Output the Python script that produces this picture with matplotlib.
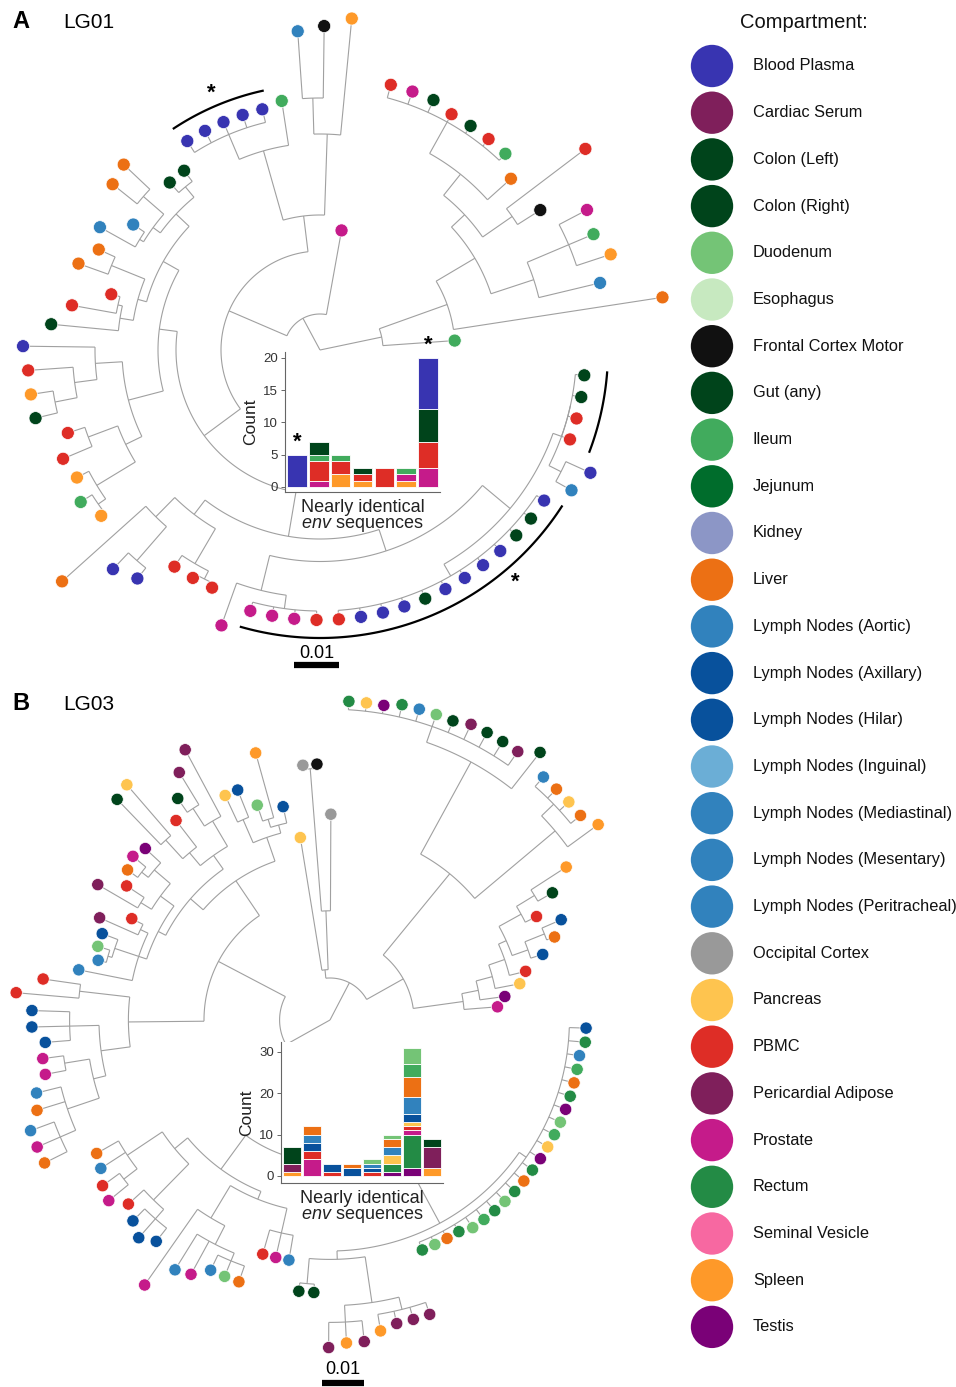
import matplotlib.pyplot as plt
import numpy as np
from matplotlib.collections import LineCollection

plt.rcParams['font.family'] = ['Liberation Sans', 'DejaVu Sans']
plt.rcParams['mathtext.fontset'] = 'custom'
plt.rcParams['mathtext.rm'] = 'Liberation Sans'
plt.rcParams['mathtext.it'] = 'Liberation Sans:italic'

# Compartimentos (leyenda)
compartments = ['Blood Plasma', 'Cardiac Serum', 'Colon (Left)', 'Colon (Right)', 'Duodenum',
                'Esophagus', 'Frontal Cortex Motor', 'Gut (any)', 'Ileum', 'Jejunum', 'Kidney',
                'Liver', 'Lymph Nodes (Aortic)', 'Lymph Nodes (Axillary)', 'Lymph Nodes (Hilar)',
                'Lymph Nodes (Inguinal)', 'Lymph Nodes (Mediastinal)', 'Lymph Nodes (Mesentary)',
                'Lymph Nodes (Peritracheal)', 'Occipital Cortex', 'Pancreas', 'PBMC',
                'Pericardial Adipose', 'Prostate', 'Rectum', 'Seminal Vesicle', 'Spleen', 'Testis']
codes = ['BP', 'CS', 'CL', 'CR', 'DU', 'ES', 'FC', 'GU', 'IL', 'JE', 'KI', 'LI', 'LA', 'LX', 'LH',
         'LG', 'LM', 'LS', 'LP', 'OC', 'PA', 'PB', 'PE', 'PR', 'RE', 'SV', 'SP', 'TE']
colors = ['#3834b1', '#7f1f5b', '#00441b', '#00441b', '#74c476', '#c7e9c0', '#111111', '#00441b',
          '#41ab5d', '#006d2c', '#8c96c6', '#ec7014', '#3182bd', '#08519c', '#08519c', '#6baed6',
          '#3182bd', '#3182bd', '#3182bd', '#999999', '#fec44f', '#de2d26', '#7f1f5b', '#c51b8a',
          '#238b45', '#f768a1', '#fe9929', '#7a0177']
color_of = dict(zip(codes, colors))

# Árboles (newick): el número tras ':' es la distancia a la raíz (x 0.001 subst./sitio)
lg01_right = ("(IL:30,(LI:77,((LA:64,(SP:68,IL:66,PR:67):60):50,((FC:58,PB:74):52,"
              "(LI:57,(IL:60,PB:60,GU:60,PB:60,GU:61,PR:61,PB:61):58):50):44):40):30):14")
lg01_top = "((SP:74,(FC:72,LA:71):56):48,(IL:56,(BP:55,BP:55,BP:55,BP:55,BP:55):52):46):30"
lg01_left1 = ("(((GU:50,GU:50):47,((LI:60,LI:59):52,(LA:50,LA:56):47):46):44,"
              "((LI:54,LI:57):50,((PB:48,PB:56):46,GU:60):45):42):40")
lg01_left2 = "((BP:66,(PB:65,(SP:65,GU:65):60):55):50,((PB:59,PB:62):55,(SP:61,(IL:63,SP:61):60):58):48):44"
lg01_bottom1 = "((LI:77,(BP:67,BP:65):62):52,(PB:58,(PB:58,PB:58):57):55):46"
lg01_bottom2 = ("((PR:65,(PR:60,PR:60,PR:60,PB:60):58):55,"
                "((PB:60,BP:60,BP:60,BP:60,GU:60,BP:60,BP:60,BP:60,BP:60,GU:60,GU:60,BP:60):58,"
                "((LA:64,BP:66):60,(PB:59,PB:59,GU:59,GU:59):57):57):55):47")
tree_lg01 = (f"({lg01_right},(PR:27,({lg01_top},(({lg01_left1},{lg01_left2}):36,"
             f"({lg01_bottom1},{lg01_bottom2}):42):32):22):8);")

lg03_x1a = "(PR:40,(TE:42,(PA:46,(PB:48,((LX:53,(LI:57,LX:60):55):50,(PB:55,(GU:61,SP:67):57):52):46):44):40):36):32"
lg03_x1b = ("((SP:79,(LI:77,PA:77,LI:77,LA:77):74):70,(GU:81,(PE:78,GU:78,GU:78,PE:78,GU:77,DU:77,"
            "LA:77,RE:77,TE:76,PA:76,RE:76):74):70):45")
lg03_x2 = "((OC:49,(FC:61,OC:61):60):26,PA:44):12"
lg03_y1c = "((LX:52,(SP:66,DU:54):50):48,(LX:59,PA:59):52):46"
lg03_y1h = "((PE:73,(PE:69,GU:64):60):55,(PB:60,(PA:74,GU:73):58):52):48"
lg03_y1i = ("(((TE:60,(PR:61,LI:60):57):55,(PB:58,PE:64):53):50,"
            "((PB:53,PE:60):50,(LX:58,(DU:58,LA:57):55):54,LA:61):48):46")
lg03_y1b = ("((PB:69,PB:75):60,((LX:71,LX:71,LX:68):62,((PR:69,PR:69):64,"
            "(LA:72,LI:73,(LA:76,PR:76,LI:76):70):66):58):55):48")
lg03_y2c = "((LI:64,LA:65,(PB:67,PR:68):62):58,(PB:65,(LX:67,LX:69,LX:67):63):60):48"
lg03_y2d = "((PR:77,(LA:70,PR:69,(LA:66,DU:66,LI:66):62):60):55,(PB:58,PR:58,LA:58):52):46"
lg03_y2b = ("(((GU:65,GU:65):63,((PE:78,SP:77,PE:77):72,(SP:75,PE:74,PE:74,PE:74):71):68):57,"
            "(RE:59,DU:59,LI:59,RE:59,DU:60,IL:60,RE:60,DU:60,RE:60,LI:60,RE:60,TE:60,PA:60,"
            "IL:60,DU:60,TE:60,RE:60,LI:60,IL:60,LA:60,RE:61,LX:61):57):55")
tree_lg03 = (f"((({lg03_x1a},{lg03_x1b}):20,{lg03_x2}):10,"
             f"((({lg03_y1c},({lg03_y1h},{lg03_y1i}):44):40,{lg03_y1b}):30,"
             f"(({lg03_y2c},{lg03_y2d}):44,{lg03_y2b}):34):12);")

# Clados marcados: (primera punta, última punta, punta del asterisco)
lg01_marks = [(21, 25, 23), (53, 68, 64.6), (71, 74, None)]

# Histogramas insertados: compartimentos apilados y cuentas
lg01_inset_codes = [['BP'], ['PR', 'PB', 'IL', 'GU'], ['SP', 'PB', 'IL'], ['SP', 'PB', 'GU'],
                    ['PB'], ['SP', 'PR', 'IL'], ['PR', 'PB', 'GU', 'BP']]
lg01_inset_counts = [[5], [1, 3, 1, 2], [2, 2, 1], [1, 1, 1], [3], [1, 1, 1], [3, 4, 5, 8]]
lg01_starred = [0, 6]
lg03_inset_codes = [['SP', 'PE', 'GU'], ['PR', 'PB', 'LH', 'LA', 'LI'], ['PB', 'LH'], ['LH', 'LI'],
                    ['PB', 'LH', 'LA', 'DU'], ['TE', 'RE', 'PA', 'LA', 'LI', 'DU'],
                    ['TE', 'RE', 'PR', 'PB', 'PA', 'LH', 'LA', 'LI', 'IL', 'DU'], ['SP', 'PE', 'GU']]
lg03_inset_counts = [[1, 2, 4], [4, 2, 2, 2, 2], [1, 2], [2, 1], [1, 1, 1, 1], [1, 2, 2, 2, 2, 1],
                     [2, 8, 1, 1, 1, 2, 4, 5, 3, 4], [2, 5, 2]]

W, H = 956, 1387
fig = plt.figure(figsize=(W / 100, H / 100), dpi=100)
LINE = '#a0a0a0'


def parse_newick(s):
    s = s.replace(' ', '').rstrip(';')
    pos = 0

    def read():
        nonlocal pos
        kids = []
        if s[pos] == '(':
            pos += 1
            kids.append(read())
            while s[pos] == ',':
                pos += 1
                kids.append(read())
            pos += 1
        j = pos
        while pos < len(s) and s[pos] not in ',():':
            pos += 1
        name = s[j:pos]
        depth = 0.0
        if pos < len(s) and s[pos] == ':':
            pos += 1
            j = pos
            while pos < len(s) and s[pos] not in ',()':
                pos += 1
            depth = float(s[j:pos])
        return {'name': name, 'depth': depth, 'kids': kids}
    return read()


def px_axes(x0, y0, x1, y1):
    return fig.add_axes([x0 / W, 1 - y1 / H, (x1 - x0) / W, (y1 - y0) / H])


def tree_axes(box, center, k):
    x0, y0, x1, y1 = box
    ax = px_axes(*box)
    ax.set_xlim((x0 - center[0]) / k, (x1 - center[0]) / k)
    ax.set_ylim((center[1] - y1) / k, (center[1] - y0) / k)
    ax.axis('off')
    return ax


def draw_tree(ax, newick, start, dot_size):
    root = parse_newick(newick)
    tips = []

    def layout(n):
        if not n['kids']:
            tips.append(n)
            return
        for c in n['kids']:
            layout(c)
    layout(root)
    step = 360.0 / (len(tips) + 1)
    for i, t in enumerate(tips):
        t['angle'] = start + i * step

    def set_angle(n):
        if n['kids']:
            for c in n['kids']:
                set_angle(c)
            n['angle'] = (n['kids'][0]['angle'] + n['kids'][-1]['angle']) / 2
    set_angle(root)

    segs = []

    def collect(n):
        r0 = n['depth']
        if not n['kids']:
            return
        a = np.radians(np.linspace(n['kids'][0]['angle'], n['kids'][-1]['angle'], 80))
        segs.append(np.column_stack([r0 * np.cos(a), r0 * np.sin(a)]))
        for c in n['kids']:
            t = np.radians(c['angle'])
            segs.append([(r0 * np.cos(t), r0 * np.sin(t)),
                         (c['depth'] * np.cos(t), c['depth'] * np.sin(t))])
            collect(c)
    collect(root)
    ax.add_collection(LineCollection(segs, colors=LINE, linewidths=0.8, zorder=1))

    ang = np.radians([t['angle'] for t in tips])
    rad = np.array([t['depth'] for t in tips])
    ax.scatter(rad * np.cos(ang), rad * np.sin(ang), s=dot_size,
               c=[color_of[t['name']] for t in tips], edgecolors='white', linewidths=0.5, zorder=3)
    return start, step


def draw_marks(ax, marks, radii, start, step):
    for (first, last, star), (radius, star_r) in zip(marks, radii):
        a = np.radians(np.linspace(start + first * step - 1.0, start + last * step + 1.0, 80))
        ax.plot(radius * np.cos(a), radius * np.sin(a), color='black', lw=1.6, zorder=2)
        if star is not None:
            t = np.radians(start + star * step)
            ax.text(star_r * np.cos(t), star_r * np.sin(t), '*', ha='center', va='center',
                    fontsize=16, fontweight='bold')


def draw_scale(ax, x, y, text_dy):
    ax.plot([x, x + 10], [y, y], color='black', lw=4.5, solid_capstyle='butt')
    ax.text(x + 5, y + text_dy, '0.01', ha='center', va='center', fontsize=13)


def draw_inset(box, stack_codes, stack_counts, ylim, yticks, starred, star_dy):
    ax = px_axes(*box)
    ax.set_facecolor('white')
    for i, (cs, ns) in enumerate(zip(stack_codes, stack_counts)):
        bottom = 0
        for c, n in zip(cs, ns):
            ax.bar(i, n, bottom=bottom, width=0.9, color=color_of[c], edgecolor='white',
                   linewidth=0.6)
            bottom += n
        if i in starred:
            ax.text(i, bottom + star_dy, '*', ha='center', va='center', fontsize=16,
                    fontweight='bold', clip_on=False)
    ax.set_xlim(-0.55, len(stack_codes) - 0.45)
    ax.set_ylim(*ylim)
    ax.set_yticks(yticks)
    ax.set_xticks([])
    for sp in ['top', 'right']:
        ax.spines[sp].set_visible(False)
    for sp in ['left', 'bottom']:
        ax.spines[sp].set_color('#666666')
        ax.spines[sp].set_linewidth(0.8)
    ax.tick_params(axis='y', length=3, width=0.7, color='#666666', labelsize=9.5,
                   labelcolor='#333333', pad=2)
    ax.set_ylabel('Count', fontsize=12.5, color='#222222', labelpad=4)
    ax.set_xlabel('Nearly identical\n$\\mathit{env}$ sequences', fontsize=13, color='#222222',
                  linespacing=0.95, labelpad=5)
    return ax


# Panel A: LG01
ax_a = tree_axes((0, 0, 670, 680), (320, 350), 4.5)
start_a, step_a = draw_tree(ax_a, tree_lg01, 4.0, 88)
draw_marks(ax_a, lg01_marks, [(59.0, 62.0), (64.0, 67.5), (64.0, 0)], start_a, step_a)
draw_scale(ax_a, -5.7, -70.0, 2.6)
draw_inset((285, 352, 440, 492), lg01_inset_codes, lg01_inset_counts, (-0.78, 20.9),
           [0, 5, 10, 15, 20], lg01_starred, 2.0)

# Panel B: LG03
ax_b = tree_axes((0, 680, 670, 1387), (330, 1020), 4.2)
draw_tree(ax_b, tree_lg03, 4.5, 78)
draw_scale(ax_b, -1.9, -86.4, 3.3)
draw_inset((281, 1042, 443, 1183), lg03_inset_codes, lg03_inset_counts, (-1.7, 32.4),
           [0, 10, 20, 30], [], 0)

fig.text(12 / W, 1 - 21 / H, 'A', fontsize=17, fontweight='bold', va='center')
fig.text(63 / W, 1 - 22 / H, 'LG01', fontsize=15, va='center')
fig.text(12 / W, 1 - 704 / H, 'B', fontsize=17, fontweight='bold', va='center')
fig.text(63 / W, 1 - 705 / H, 'LG03', fontsize=15, va='center')

# Leyenda
ax_l = px_axes(680, 0, 956, H)
pitch = 46.7
ax_l.set_xlim(0, 276)
ax_l.set_ylim((H - 66) / pitch, -66 / pitch)
ax_l.axis('off')
idx = np.arange(len(compartments))
ax_l.scatter(np.full(len(idx), 32), idx, s=930, c=colors, edgecolors='none', clip_on=False)
for i, name in zip(idx, compartments):
    ax_l.text(73, i, name, va='center', ha='left', fontsize=11.8, color='#111111')
ax_l.text(60, -(66 - 23) / pitch, 'Compartment:', va='center', ha='left', fontsize=14.5,
          color='#111111')

fig.savefig('out.png', dpi=100)
